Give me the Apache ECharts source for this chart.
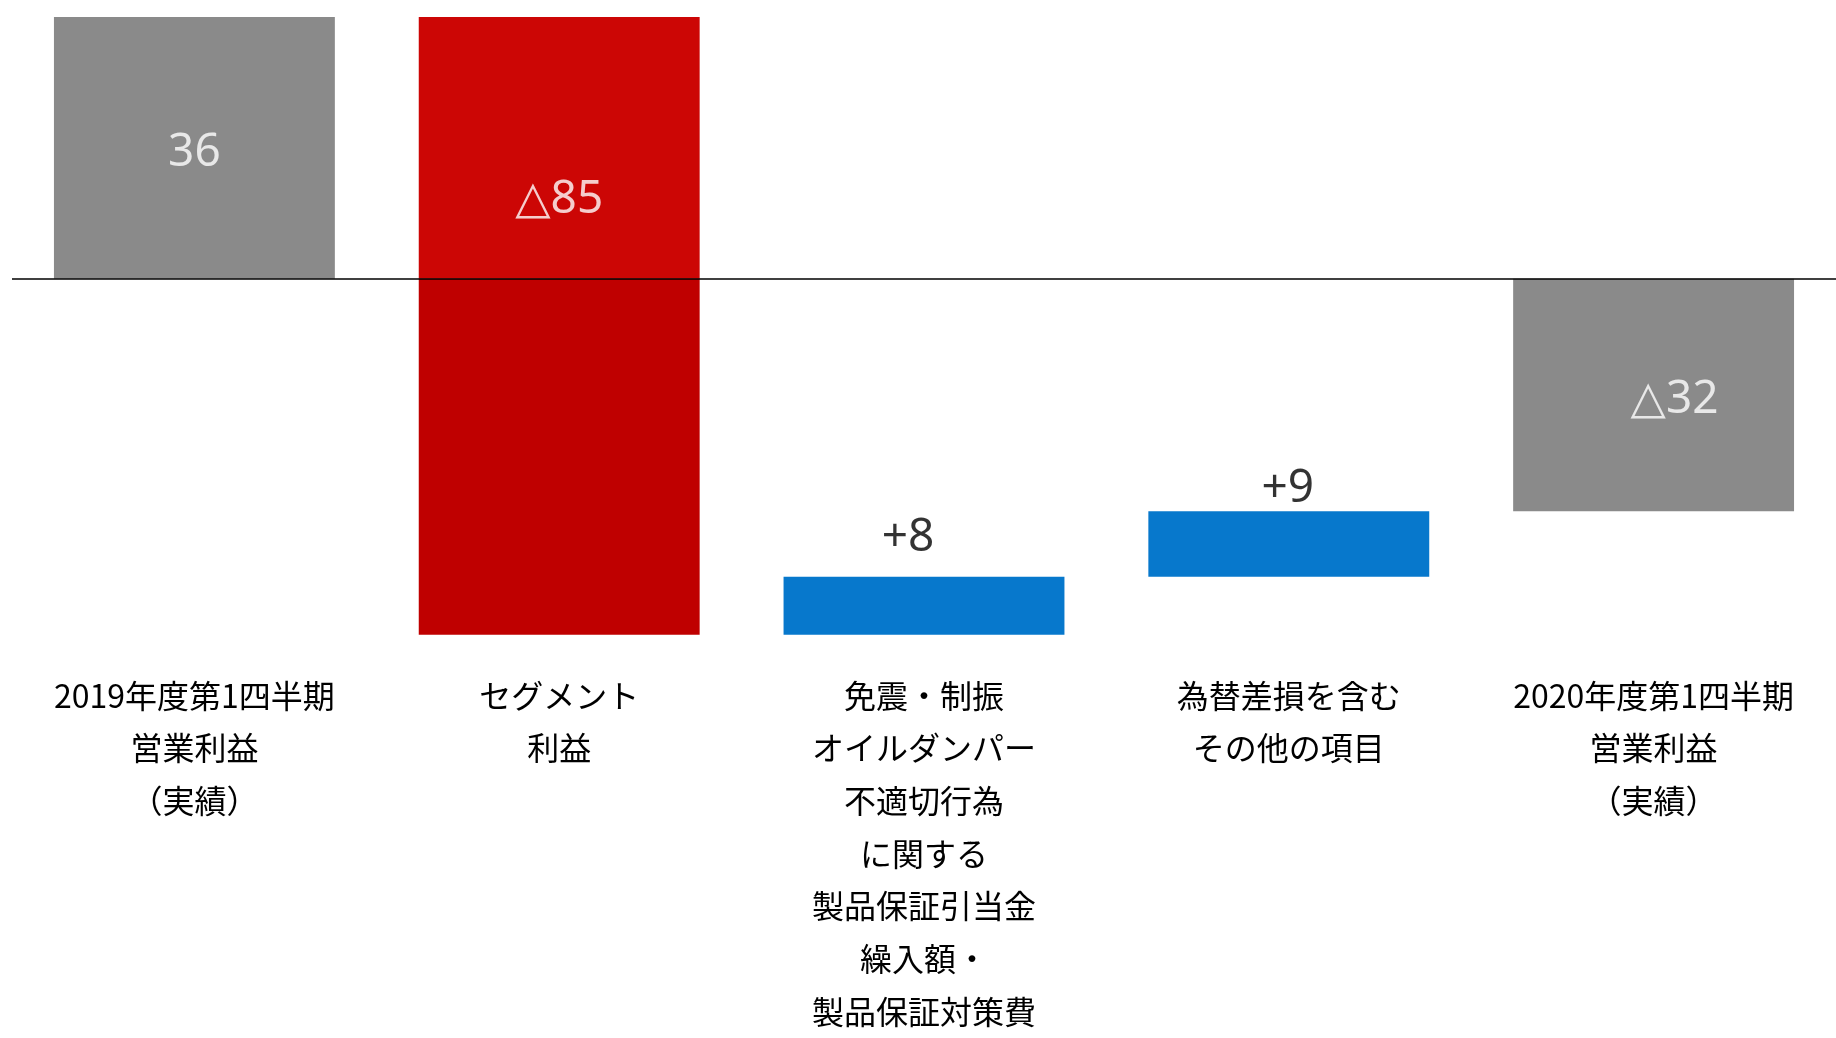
<!DOCTYPE html>
<html>
<head>
<meta charset="utf-8">
<script src="https://cdn.jsdelivr.net/npm/echarts@6/dist/echarts.min.js"></script>
<style>
html,body{margin:0;padding:0;background:#fff;}
#c{width:1836px;height:1038px;}
</style>
</head>
<body>
<div id="c"></div>
<script>
// ---- data ----
const categories = [
  '2019年度第1四半期\n営業利益\n（実績）',
  'セグメント\n利益',
  '免震・制振\nオイルダンパー\n不適切行為\nに関する\n製品保証引当金\n繰入額・\n製品保証対策費',
  '為替差損を含む\nその他の項目',
  '2020年度第1四半期\n営業利益\n（実績）'
];
const barKinds = ['total', 'delta', 'delta', 'delta', 'total'];
const values = [36, -85, 8, 9, -32];
const valueLabels = ['36', '△85', '+8', '+9', '△32'];

// ---- styles ----
const GRAY = '#8a8a8a', RED_UP = '#cc0605', RED_DN = '#bf0000', BLUE = '#0778cc';

// compute waterfall ranges
const ranges = [];
let run = 0;
values.forEach((v, i) => {
  let s, e;
  if (barKinds[i] === 'total') { s = 0; e = v; run = v; }
  else { s = run; e = run + v; run = e; }
  ranges.push([Math.min(s, e), Math.max(s, e)]);
});

const baseData = [], posData = [], negData = [];
ranges.forEach(([lo, hi], i) => {
  const isTotal = barKinds[i] === 'total';
  const col = isTotal ? GRAY : (values[i] < 0 ? null : BLUE);
  if (lo >= 0) {
    baseData.push(lo); posData.push({value: hi - lo, itemStyle: {color: col || RED_UP}}); negData.push(null);
  } else if (hi <= 0) {
    baseData.push(hi); posData.push(null); negData.push({value: lo - hi, itemStyle: {color: col || RED_DN}});
  } else {
    baseData.push(0);
    posData.push({value: hi, itemStyle: {color: col || RED_UP}});
    negData.push({value: lo, itemStyle: {color: col || RED_DN}});
  }
});

// label anchors (value coords) and pixel tweaks
const labelOffsets = [[0, 5], [0, 52], [-16, -39], [-1, -22], [21, 5]];
const labelData = ranges.map(([lo, hi], i) => {
  let y;
  if (barKinds[i] === 'delta' && values[i] > 0) y = hi;
  else if (lo < 0 && hi > 0) y = hi / 2;
  else y = (lo + hi) / 2;
  const white = !(barKinds[i] === 'delta' && values[i] > 0);
  return {
    value: [i, y],
    label: {
      show: true, position: 'inside', formatter: valueLabels[i],
      offset: labelOffsets[i], color: white ? '#fff' : '#000'
    }
  };
});

const chart = echarts.init(document.getElementById('c'));
chart.setOption({
  animation: false,
  backgroundColor: '#fff',
  grid: {left: 12, right: 0, top: 1.5, bottom: 393},
  xAxis: {
    type: 'category', data: categories,
    axisLine: {show: false}, axisTick: {show: false},
    axisLabel: {
      interval: 0, margin: 27, fontSize: 32, lineHeight: 52.7, color: '#000',
      fontFamily: "'Noto Sans CJK JP', sans-serif"
    }
  },
  yAxis: {type: 'value', min: -50, max: 38.15, show: false, splitLine: {show: false}},
  series: [
    {type: 'bar', stack: 'w', barWidth: '77%', data: baseData, itemStyle: {color: 'transparent'}, silent: true},
    {type: 'bar', stack: 'w', barWidth: '77%', data: posData},
    {type: 'bar', stack: 'w', barWidth: '77%', data: negData,
      markLine: {silent: true, symbol: 'none', label: {show: false},
        lineStyle: {color: '#000', width: 1.6, type: 'solid'}, data: [{yAxis: 0}]}},
    {type: 'scatter', data: labelData, symbolSize: 1, itemStyle: {color: 'rgba(0,0,0,0)'}, z: 10,
      label: {fontSize: 46, fontFamily: "'Noto Sans', 'DejaVu Sans', sans-serif"}}
  ]
});
</script>
</body>
</html>
